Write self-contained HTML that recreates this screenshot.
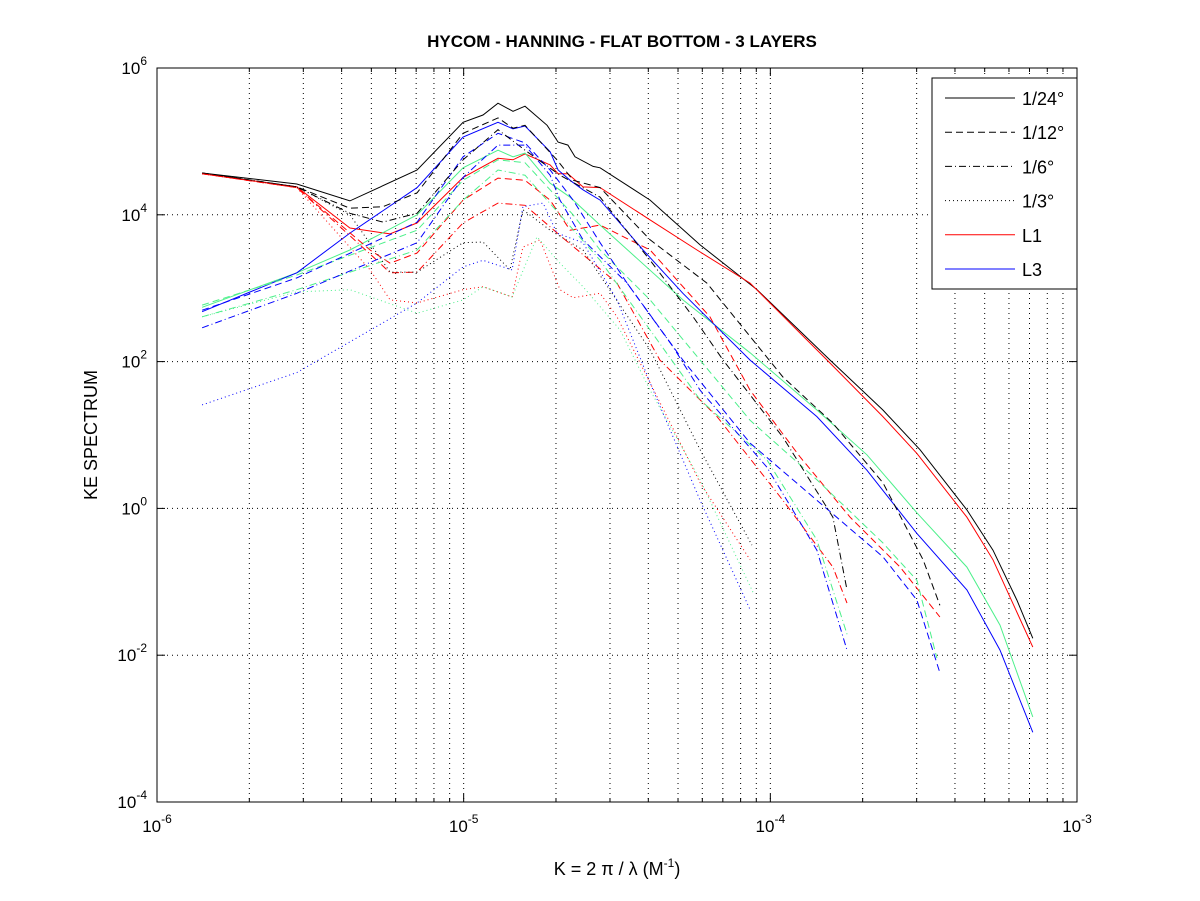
<!DOCTYPE html>
<html><head><meta charset="utf-8"><style>
body{margin:0;background:#fff;}
svg{display:block;font-family:"Liberation Sans",sans-serif;}
</style></head><body>
<svg id="chart" width="1200" height="901" viewBox="0 0 1200 901">
<rect width="1200" height="901" fill="#fff"/>
<text x="622" y="47" text-anchor="middle" font-size="17" font-weight="bold">HYCOM - HANNING - FLAT BOTTOM - 3 LAYERS</text>
<g id="grid"></g>
<g id="series"></g>
<rect x="157" y="68" width="920" height="734" fill="none" stroke="#000" stroke-width="1"/>
<g id="ticks"></g>
<text transform="translate(97,435) rotate(-90)" text-anchor="middle" font-size="18">KE SPECTRUM</text>
<text x="617" y="875" text-anchor="middle" font-size="18">K = 2 π / λ  (M<tspan font-size="12" dy="-8">-1</tspan><tspan dy="8">)</tspan></text>
<g id="legend">
<rect x="932" y="78" width="145" height="211" fill="#fff" stroke="#000"/>
</g>
</svg>
<script>
// log10 wavenumber and log10 energy values
const k24 = [-5.853,-5.544,-5.371,-5.152,-5.002,-4.937,-4.888,-4.839,-4.800,-4.728,-4.692,-4.660,-4.637,-4.578,-4.555,-4.392,-4.229,-4.043,-3.805,-3.633,-3.512,-3.359,-3.274,-3.196,-3.144];
const eBlack24 = [4.57,4.42,4.19,4.61,5.26,5.36,5.52,5.41,5.48,5.22,4.99,4.95,4.79,4.66,4.64,4.20,3.59,2.98,2.02,1.34,0.80,-0.02,-0.57,-1.25,-1.77];
const kRed24 = [-5.853,-5.544,-5.371,-5.240,-5.152,-5.002,-4.888,-4.839,-4.800,-4.718,-4.692,-4.660,-4.611,-4.555,-4.392,-4.239,-4.066,-3.815,-3.633,-3.522,-3.359,-3.274,-3.144];
const eRed24 = [4.56,4.38,3.82,3.74,3.89,4.51,4.77,4.75,4.83,4.68,4.56,4.56,4.38,4.37,3.93,3.52,3.07,2.02,1.25,0.75,-0.12,-0.70,-1.89];
const kBlue24 = [-5.853,-5.544,-5.371,-5.152,-5.002,-4.888,-4.839,-4.800,-4.718,-4.692,-4.653,-4.611,-4.555,-4.415,-4.285,-4.066,-3.848,-3.685,-3.522,-3.359,-3.251,-3.144];
const eBlue24 = [2.68,3.21,3.75,4.37,5.06,5.26,5.17,5.21,4.86,4.61,4.47,4.34,4.20,3.52,2.93,2.02,1.25,0.52,-0.34,-1.11,-1.93,-3.05];
const kGreen24 = [-5.853,-5.544,-5.371,-5.152,-5.002,-4.888,-4.839,-4.800,-4.718,-4.653,-4.555,-4.285,-4.066,-3.848,-3.685,-3.522,-3.359,-3.251,-3.144];
const eGreen24 = [2.74,3.21,3.52,4.00,4.64,4.88,4.79,4.84,4.43,4.24,3.86,2.84,2.12,1.34,0.73,-0.06,-0.80,-1.59,-2.84];

const kBlack12 = [-5.853,-5.544,-5.371,-5.263,-5.152,-5.002,-4.888,-4.839,-4.800,-4.696,-4.643,-4.555,-4.392,-4.207,-3.959,-3.796,-3.633,-3.502,-3.447];
const eBlack12 = [4.57,4.38,4.09,4.11,4.30,5.11,5.32,5.18,5.22,4.75,4.47,4.37,3.66,3.07,1.79,1.16,0.35,-0.70,-1.32];
const kRed12 = [-5.853,-5.544,-5.305,-5.240,-5.152,-5.002,-4.888,-4.800,-4.718,-4.653,-4.555,-4.392,-4.197,-4.066,-3.903,-3.740,-3.577,-3.447];
const eRed12 = [4.56,4.37,3.52,3.34,3.48,4.20,4.50,4.47,4.20,3.79,3.86,3.52,2.61,1.61,0.70,-0.12,-0.80,-1.48];
const kBlue12 = [-5.853,-5.544,-5.152,-5.002,-4.888,-4.800,-4.718,-4.643,-4.555,-4.467,-4.285,-4.066,-3.848,-3.633,-3.522,-3.447];
const eBlue12 = [2.70,3.14,3.90,4.79,5.11,4.98,4.61,4.20,3.62,3.07,2.02,0.89,0.11,-0.66,-1.25,-2.24];
const kGreen12 = [-5.853,-5.544,-5.152,-5.002,-4.888,-4.800,-4.718,-4.643,-4.555,-4.392,-4.229,-4.066,-3.848,-3.633,-3.522,-3.457];
const eGreen12 = [2.77,3.18,3.79,4.47,4.75,4.71,4.34,4.00,3.52,2.84,2.02,1.20,0.39,-0.47,-0.98,-2.04];

const kBlack6 = [-5.853,-5.544,-5.371,-5.263,-5.152,-5.002,-4.888,-4.800,-4.686,-4.555,-4.392,-4.252,-4.154,-3.959,-3.796,-3.750];
const eBlack6 = [4.57,4.38,4.02,3.90,4.02,4.75,5.16,4.88,4.54,4.24,3.38,2.61,2.02,0.97,-0.12,-1.11];
const kRed6 = [-5.853,-5.544,-5.296,-5.240,-5.152,-5.002,-4.888,-4.800,-4.686,-4.500,-4.360,-4.174,-3.959,-3.796,-3.750];
const eRed6 = [4.56,4.37,3.43,3.21,3.22,3.89,4.16,4.13,3.72,3.07,2.02,1.25,0.11,-0.80,-1.29];
const kBlue6 = [-5.853,-5.544,-5.152,-5.002,-4.888,-4.800,-4.718,-4.686,-4.611,-4.467,-4.317,-4.229,-4.011,-3.848,-3.750];
const eBlue6 = [2.46,2.93,3.62,4.51,4.95,4.95,4.54,4.20,3.66,3.07,2.20,1.61,0.56,-0.57,-1.93];
const kGreen6 = [-5.853,-5.544,-5.152,-5.002,-4.888,-4.800,-4.686,-4.555,-4.392,-4.229,-4.011,-3.848,-3.747];
const eGreen6 = [2.61,2.98,3.52,4.20,4.61,4.54,4.00,3.38,2.43,1.48,0.66,-0.43,-1.75];

const kBlack3 = [-5.853,-5.544,-5.371,-5.240,-5.152,-5.002,-4.937,-4.849,-4.807,-4.718,-4.611,-4.392,-4.229,-4.060];
const eBlack3 = [4.57,4.38,4.00,3.22,3.22,3.62,3.63,3.25,4.07,3.79,3.52,2.16,0.80,-0.50];
const kRed3 = [-5.853,-5.544,-5.305,-5.240,-5.152,-5.002,-4.937,-4.842,-4.807,-4.751,-4.686,-4.643,-4.555,-4.500,-4.392,-4.229,-4.066];
const eRed3 = [4.56,4.37,3.25,2.84,2.80,2.98,3.02,2.88,3.56,3.66,2.98,2.87,2.93,2.61,1.71,0.35,-0.70];
const kBlue3 = [-5.853,-5.544,-5.263,-5.152,-5.002,-4.937,-4.842,-4.807,-4.741,-4.696,-4.611,-4.500,-4.392,-4.229,-4.066];
const eBlue3 = [1.41,1.85,2.53,2.80,3.29,3.38,3.25,4.11,4.16,3.75,3.62,2.84,1.71,0.11,-1.38];
const kGreen3 = [-5.853,-5.544,-5.371,-5.152,-5.002,-4.937,-4.842,-4.761,-4.686,-4.611,-4.490,-4.392,-4.229,-4.057];
const eGreen3 = [2.61,2.95,2.98,2.66,2.84,3.02,2.88,3.70,3.34,3.02,2.43,1.61,0.39,-1.14];

const xDecades = [-6,-5,-4,-3];
const yDecades = [6,4,2,0,-2,-4];
const legendLabels = ['1/24°','1/12°','1/6°','1/3°','L1','L3'];

const NS = 'http://www.w3.org/2000/svg';
const X0=157, X1=1077, Y0=802, Y1=68;
function xs(lk){ return X0 + (lk - (-6)) / 3 * (X1 - X0); }
function ys(le){ return Y0 - (le - (-4)) / 10 * (Y0 - Y1); }
function mk(tag, attrs, parent){ const e=document.createElementNS(NS,tag); for(const a in attrs) e.setAttribute(a,attrs[a]); parent.appendChild(e); return e; }

const grid=document.getElementById('grid'), ticks=document.getElementById('ticks');
for(let d=-6; d<-3; d++){
  for(let m=1; m<10; m++){
    const lk=d+Math.log10(m);
    const x=xs(lk);
    if(m>1||d>-6){
      const gl=mk('line',{x1:x,x2:x,y1:Y1,y2:Y0,stroke:'#000','stroke-dasharray':'1,4','stroke-width':1},grid);
      
      
    }
    const len = m===1?8:4;
    const t1=mk('line',{x1:x,x2:x,y1:Y0,y2:Y0-len,stroke:'#000'},ticks);
    
    
    const t2=mk('line',{x1:x,x2:x,y1:Y1,y2:Y1+len,stroke:'#000'},ticks);
    
    
  }
}
xDecades.forEach(d=>{
  const x=xs(d);
  const t=mk('text',{x:x,y:832,'text-anchor':'middle','font-size':17},ticks);
  
  
  t.innerHTML='10<tspan font-size="12" dy="-9">'+d+'</tspan>';
});
yDecades.forEach(d=>{
  const y=ys(d);
  if(d<6&&d>-4){
    const gl=mk('line',{x1:X0,x2:X1,y1:y,y2:y,stroke:'#000','stroke-dasharray':'1,4'},grid);
    
    
  }
  const t1=mk('line',{x1:X0,x2:X0+8,y1:y,y2:y,stroke:'#000'},ticks);
  
  
  const t2=mk('line',{x1:X1,x2:X1-8,y1:y,y2:y,stroke:'#000'},ticks);
  
  
  const t=mk('text',{x:X0-10,y:y+6,'text-anchor':'end','font-size':17},ticks);
  
  
  t.innerHTML='10<tspan font-size="12" dy="-9">'+d+'</tspan>';
});

const GREEN='#4cf08a';
const dashes={solid:'',dash:'7,4',dashdot:'7,3,1,3',dot:'1,3'};
const seriesList=[
 [k24,eBlack24,'#000','solid','black-1-24'],
 [kRed24,eRed24,'#ff0000','solid','red-l1-1-24'],
 [kGreen24,eGreen24,GREEN,'solid','green-l2-1-24'],
 [kBlue24,eBlue24,'#0000ff','solid','blue-l3-1-24'],
 [kBlack12,eBlack12,'#000','dash','black-1-12'],
 [kRed12,eRed12,'#ff0000','dash','red-l1-1-12'],
 [kGreen12,eGreen12,GREEN,'dash','green-l2-1-12'],
 [kBlue12,eBlue12,'#0000ff','dash','blue-l3-1-12'],
 [kBlack6,eBlack6,'#000','dashdot','black-1-6'],
 [kRed6,eRed6,'#ff0000','dashdot','red-l1-1-6'],
 [kGreen6,eGreen6,GREEN,'dashdot','green-l2-1-6'],
 [kBlue6,eBlue6,'#0000ff','dashdot','blue-l3-1-6'],
 [kBlack3,eBlack3,'#000','dot','black-1-3'],
 [kRed3,eRed3,'#ff0000','dot','red-l1-1-3'],
 [kGreen3,eGreen3,GREEN,'dot','green-l2-1-3'],
 [kBlue3,eBlue3,'#0000ff','dot','blue-l3-1-3']
];
const sg=document.getElementById('series');
seriesList.forEach(s=>{
  const pts=s[0].map((k,i)=>xs(k).toFixed(1)+','+ys(s[1][i]).toFixed(1)).join(' ');
  const p=mk('polyline',{points:pts,fill:'none',stroke:s[2],'stroke-width':1,'stroke-dasharray':dashes[s[3]]},sg);
  
  
});

const lg=document.getElementById('legend');
const legendStyles=[['#000','solid'],['#000','dash'],['#000','dashdot'],['#000','dot'],['#ff0000','solid'],['#0000ff','solid']];
legendLabels.forEach((lab,i)=>{
  const y=98+i*34.2;
  const l=mk('line',{x1:945,x2:1015,y1:y,y2:y,stroke:legendStyles[i][0],'stroke-dasharray':dashes[legendStyles[i][1]]},lg);
  
  
  const t=mk('text',{x:1022,y:y+7,'font-size':18},lg);
  t.textContent=lab;
  
  
});
</script>
</body></html>
